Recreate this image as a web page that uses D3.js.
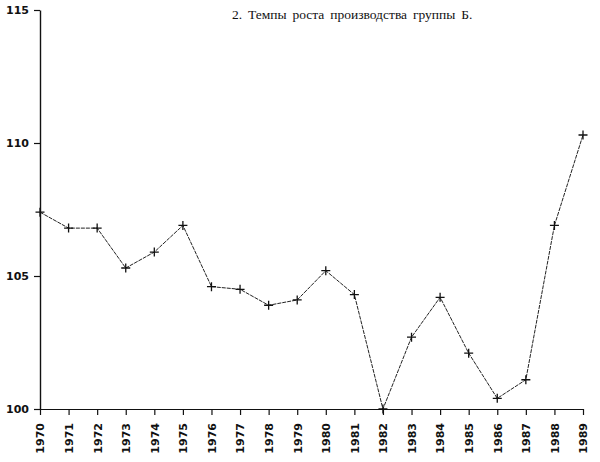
<!DOCTYPE html>
<html>
<head>
<meta charset="utf-8">
<script src="https://cdn.jsdelivr.net/npm/d3@7"></script>
<style>
  body { margin: 0; background: #fff; }
  svg { display: block; }
</style>
</head>
<body>
<div id="chart"></div>
<script>
const width = 600;
const height = 462;

const years = [1970, 1971, 1972, 1973, 1974, 1975, 1976, 1977, 1978, 1979,
               1980, 1981, 1982, 1983, 1984, 1985, 1986, 1987, 1988, 1989];
const growth = [107.4, 106.8, 106.8, 105.3, 105.9, 106.9, 104.6, 104.5, 103.9, 104.1,
                105.2, 104.3, 100.0, 102.7, 104.2, 102.1, 100.4, 101.1, 106.9, 110.3];
const yTicks = [100, 105, 110, 115];
const title = "2. Темпы роста производства группы Б.";

const margin = { top: 10, right: 17, bottom: 53, left: 40 };
const labelFont = "DejaVu Sans, Verdana, sans-serif";

const svg = d3.select("#chart")
    .append("svg")
    .attr("width", width)
    .attr("height", height);

const x = d3.scalePoint()
    .domain(years)
    .range([margin.left, width - margin.right]);

const y = d3.scaleLinear()
    .domain([100, 115])
    .range([height - margin.bottom, margin.top]);

// y axis
const yAxis = svg.append("g")
    .attr("transform", `translate(${margin.left},0)`)
    .call(d3.axisLeft(y).tickValues(yTicks).tickSize(6).tickPadding(5).tickSizeOuter(0));

yAxis.select(".domain").attr("stroke", "#111").attr("stroke-width", 1.4);
yAxis.selectAll(".tick line").attr("stroke", "#111").attr("stroke-width", 1.2);
yAxis.selectAll(".tick text")
    .attr("font-family", labelFont)
    .attr("font-weight", "bold")
    .attr("font-size", 11)
    .attr("fill", "#111");

// x axis
const xAxis = svg.append("g")
    .attr("transform", `translate(0,${height - margin.bottom})`)
    .call(d3.axisBottom(x).tickSize(6).tickSizeOuter(0));

xAxis.select(".domain").attr("stroke", "#111").attr("stroke-width", 1.2);
xAxis.selectAll(".tick line").attr("stroke", "#111").attr("stroke-width", 1.2);
xAxis.selectAll(".tick text")
    .attr("font-family", labelFont)
    .attr("font-weight", "bold")
    .attr("font-size", 11)
    .attr("fill", "#111")
    .attr("text-anchor", "end")
    .attr("dy", "0.35em")
    .attr("transform", "translate(0,14) rotate(-90)")
    .attr("x", 0)
    .attr("y", 0);

// the line
const line = d3.line()
    .x((d, i) => x(years[i]))
    .y(d => y(d));

svg.append("path")
    .datum(growth)
    .attr("fill", "none")
    .attr("stroke", "#222")
    .attr("stroke-width", 1)
    .attr("stroke-dasharray", "4,1")
    .attr("d", line);

// plus markers
const s = 4.5;
svg.selectAll(".mark")
    .data(growth)
    .enter()
    .append("path")
    .attr("class", "mark")
    .attr("d", (d, i) => {
        const cx = x(years[i]), cy = y(d);
        return `M${cx - s},${cy}H${cx + s}M${cx},${cy - s}V${cy + s}`;
    })
    .attr("stroke", "#111")
    .attr("stroke-width", 1.3);

// title
svg.append("text")
    .attr("x", 232)
    .attr("y", 19)
    .attr("font-family", "Liberation Serif, Times New Roman, serif")
    .attr("font-size", 13.5)
    .attr("word-spacing", 2.5)
    .attr("fill", "#111")
    .text(title);
</script>
</body>
</html>
